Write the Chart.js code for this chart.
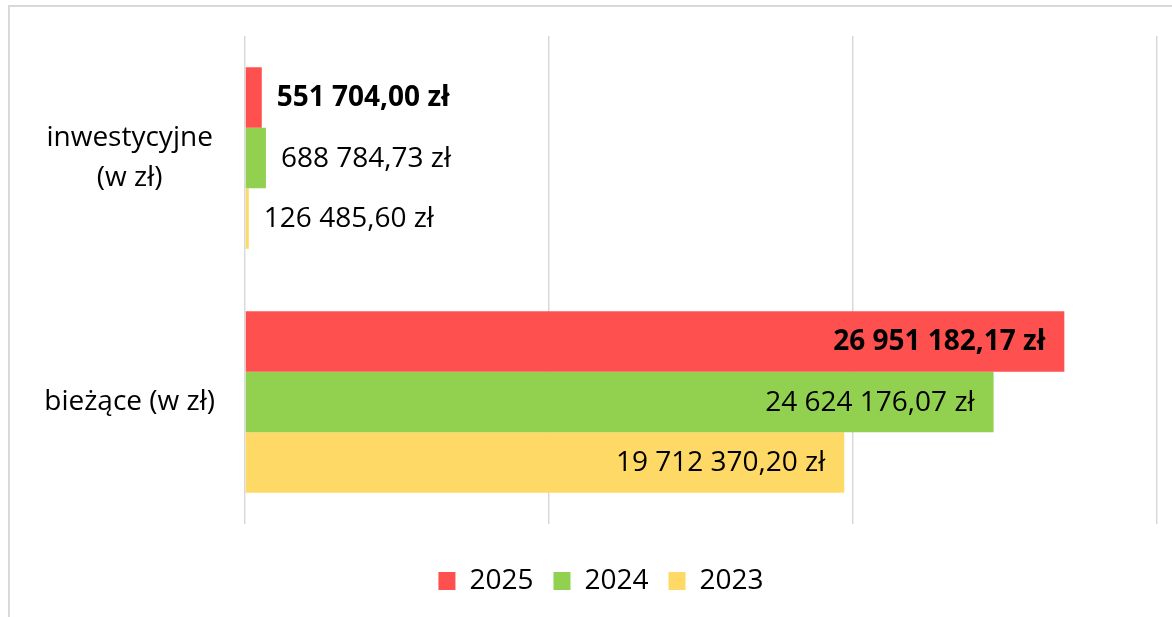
<!DOCTYPE html>
<html lang="pl">
<head>
<meta charset="utf-8">
<title>Wydatki</title>
<script src="https://cdn.jsdelivr.net/npm/chart.js"></script>
<style>
    html, body { margin: 0; padding: 0; background: #fff; overflow: hidden; }
    #frame {
        position: absolute; left: 8px; top: 5px; width: 1200px; height: 700px;
        border-left: 2px solid #d9d9d9; border-top: 2px solid #d9d9d9;
    }
    #wrap { position: absolute; left: 0; top: 0; width: 1172px; height: 617px; }
</style>
</head>
<body>
<div id="frame"></div>
<div id="wrap"><canvas id="wydatkiChart" width="1172" height="617"></canvas></div>
<script>
// Kategorie i wartości (w zł)
const categories = [['inwestycyjne', '(w zł)'], 'bieżące (w zł)'];
const years = ['2025', '2024', '2023'];
const values2025 = [551704.00, 26951182.17];
const values2024 = [688784.73, 24624176.07];
const values2023 = [126485.60, 19712370.20];
const axisTicks = [0, 10000000, 20000000, 30000000];

const colors = ['#ff5050', '#92d050', '#ffd966'];
const fontFamily = '"Open Sans", Lato, sans-serif';

// Polish money format: 26 951 182,17 zł
function formatZl(value) {
    const parts = value.toFixed(2).split('.');
    const intPart = parts[0].replace(/\B(?=(\d{3})+(?!\d))/g, ' ');
    return intPart + ',' + parts[1] + ' zł';
}

// Simple value labels (no datalabels plugin available)
const valueLabels = {
    id: 'valueLabels',
    afterDatasetsDraw(chart) {
        const ctx = chart.ctx;
        ctx.save();
        ctx.fillStyle = '#000';
        ctx.textBaseline = 'middle';
        chart.data.datasets.forEach(function(ds, i) {
            const meta = chart.getDatasetMeta(i);
            ctx.font = (i === 0 ? 'bold ' : '') + '28px ' + fontFamily;
            meta.data.forEach(function(bar, j) {
                const text = formatZl(ds.data[j]);
                const w = ctx.measureText(text).width;
                const len = bar.x - bar.base;
                if (len > w + 40) {
                    ctx.textAlign = 'right';
                    ctx.fillText(text, bar.x - 19, bar.y + 1);
                } else {
                    ctx.textAlign = 'left';
                    ctx.fillText(text, bar.x + 15, bar.y + 1);
                }
            });
        });
        ctx.restore();
    }
};

// legend in the original sits a bit right of the chart centre
const legendShift = {
    id: 'legendShift',
    afterLayout(chart) {
        chart.legend.left += 15;
        chart.legend.right += 15;
    }
};

const ctx = document.getElementById('wydatkiChart').getContext('2d');

new Chart(ctx, {
    type: 'bar',
    data: {
        labels: categories,
        datasets: [
            { label: years[0], data: values2025, backgroundColor: colors[0] },
            { label: years[1], data: values2024, backgroundColor: colors[1] },
            { label: years[2], data: values2023, backgroundColor: colors[2] }
        ]
    },
    options: {
        indexAxis: 'y',
        responsive: false,
        animation: false,
        layout: { padding: { left: 15, right: 15, top: 36, bottom: 12 } },
        datasets: {
            bar: { barPercentage: 1, categoryPercentage: 0.744 }
        },
        scales: {
            x: {
                min: axisTicks[0],
                max: axisTicks[axisTicks.length - 1],
                afterBuildTicks: function(axis) {
                    axis.ticks = axisTicks.map(function(v) { return { value: v }; });
                },
                afterFit: function(axis) { axis.height = 23; },
                ticks: { display: false },
                grid: { color: '#d9d9d9', lineWidth: 1.5, drawTicks: false },
                border: { display: false }
            },
            y: {
                afterFit: function(axis) {
                    axis.width = 230;
                    axis.paddingTop = 0;
                    axis.paddingBottom = 0;
                },
                ticks: {
                    crossAlign: 'center',
                    padding: 30,
                    color: '#000',
                    font: { family: fontFamily, size: 28, lineHeight: 1.43 }
                },
                grid: { display: false, drawTicks: false },
                border: { display: false }
            }
        },
        plugins: {
            legend: {
                position: 'bottom',
                labels: {
                    boxWidth: 17,
                    boxHeight: 18,
                    padding: 20,
                    color: '#000',
                    font: { family: fontFamily, size: 28 }
                }
            },
            tooltip: { enabled: false }
        }
    },
    plugins: [valueLabels, legendShift]
});
</script>
</body>
</html>
